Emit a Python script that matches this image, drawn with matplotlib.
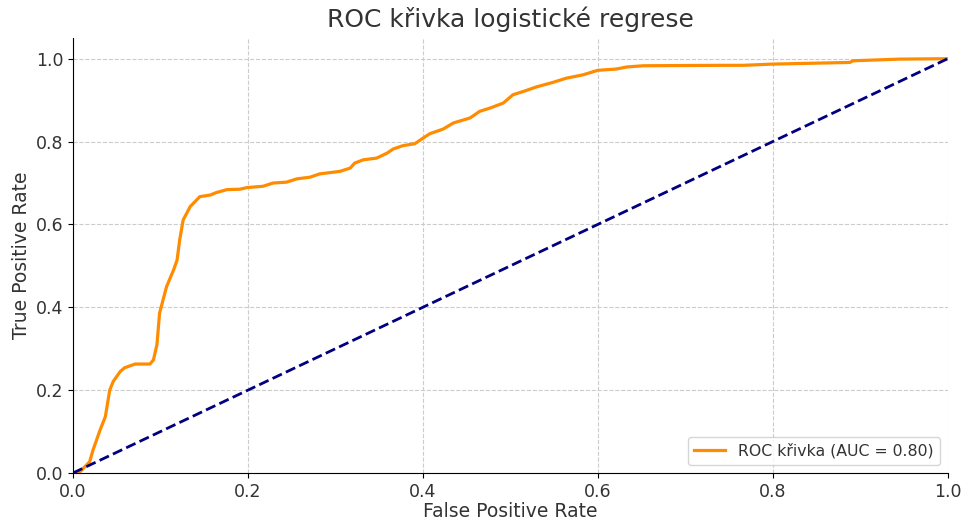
import numpy as np
import matplotlib.pyplot as plt

# ROC body
fpr = [0.0, 0.008, 0.019, 0.023, 0.031, 0.037, 0.042, 0.046, 0.054, 0.059,
       0.071, 0.088, 0.092, 0.096, 0.099, 0.107, 0.115, 0.119, 0.122, 0.126,
       0.134, 0.145, 0.157, 0.164, 0.176, 0.191, 0.199, 0.217, 0.229, 0.244,
       0.256, 0.271, 0.282, 0.305, 0.317, 0.322, 0.332, 0.347, 0.359, 0.366,
       0.377, 0.391, 0.400, 0.408, 0.423, 0.435, 0.454, 0.465, 0.477, 0.492,
       0.503, 0.515, 0.530, 0.549, 0.564, 0.583, 0.600, 0.621, 0.633, 0.652,
       0.739, 0.766, 0.800, 0.888, 0.892, 0.945, 1.0]
tpr = [0.0, 0.003, 0.027, 0.056, 0.104, 0.136, 0.200, 0.221, 0.245, 0.254,
       0.263, 0.263, 0.273, 0.310, 0.386, 0.450, 0.490, 0.514, 0.563, 0.611,
       0.643, 0.667, 0.671, 0.677, 0.684, 0.685, 0.689, 0.692, 0.700, 0.702,
       0.710, 0.714, 0.722, 0.728, 0.736, 0.748, 0.756, 0.760, 0.772, 0.782,
       0.790, 0.795, 0.808, 0.819, 0.830, 0.845, 0.857, 0.873, 0.881, 0.893,
       0.913, 0.921, 0.932, 0.943, 0.953, 0.961, 0.972, 0.975, 0.980, 0.983,
       0.984, 0.984, 0.987, 0.991, 0.995, 0.999, 1.0]
auc = 0.80

txt = '#333333'
fig = plt.figure(figsize=(9.68, 5.24), dpi=100)
ax = fig.add_axes([0.0754, 0.0973, 0.9036, 0.8302])

ax.plot(fpr, tpr, color='darkorange', lw=2.3, label=f'ROC křivka (AUC = {auc:.2f})')
ax.plot([0, 1], [0, 1], color='navy', lw=2, linestyle='--')

ax.set_xlim(0.0, 1.0)
ax.set_ylim(0.0, 1.05)
ax.set_title('ROC křivka logistické regrese', fontsize=18, color=txt, pad=8)
ax.set_xlabel('False Positive Rate', fontsize=13.5, color=txt, labelpad=1)
ax.set_ylabel('True Positive Rate', fontsize=13.5, color=txt, labelpad=3)
ax.tick_params(labelsize=12.5, labelcolor=txt)
ax.grid(True, linestyle='--', color='#cccccc', linewidth=0.8)
ax.set_axisbelow(True)
ax.spines['top'].set_visible(False)
ax.spines['right'].set_visible(False)
leg = ax.legend(loc='lower right', fontsize=11.3)
for t in leg.get_texts():
    t.set_color(txt)

fig.savefig('out.png', dpi=100)
